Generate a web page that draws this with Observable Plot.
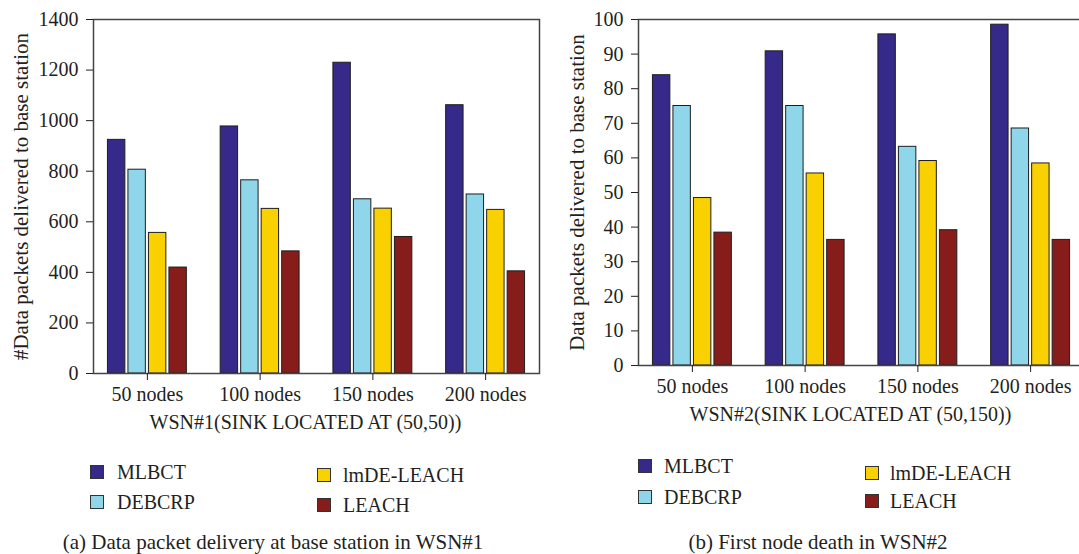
<!DOCTYPE html>
<html>
<head>
<meta charset="utf-8">
<script src="https://cdn.jsdelivr.net/npm/d3@7"></script>
<script src="https://cdn.jsdelivr.net/npm/@observablehq/plot@0.6"></script>
<style>
  html, body { margin: 0; padding: 0; background: #fff; }
  #fig { position: relative; width: 1079px; height: 554px; overflow: hidden; font-family: "Liberation Serif", serif; color: #231f20; }
  #fig svg { position: absolute; top: 0; overflow: visible; }
  .lg { position: absolute; font-size: 20px; line-height: 1; white-space: nowrap; }
  .sw { position: absolute; width: 12px; height: 12px; border: 1.5px solid #333; }
  .cap { position: absolute; font-size: 21px; line-height: 1; white-space: nowrap; transform: translate(-50%, -50%); }
</style>
</head>
<body>
<div id="fig"></div>
<script>
// ---- data ----
const groups = ["50 nodes", "100 nodes", "150 nodes", "200 nodes"];
const seriesNames = ["MLBCT", "DEBCRP", "lmDE-LEACH", "LEACH"];
const seriesColors = ["#35298a", "#8fd6ea", "#f9d100", "#861d1a"];

// (a) WSN#1 data packets delivered
const wsn1MLBCT  = [924, 977, 1229, 1061];
const wsn1DEBCRP = [806, 764, 689, 708];
const wsn1lmDE   = [556, 651, 652, 647];
const wsn1LEACH  = [419, 483, 540, 404];

// (b) WSN#2 first node death
const wsn2MLBCT  = [83.9, 90.8, 95.7, 98.5];
const wsn2DEBCRP = [75.0, 75.0, 63.2, 68.5];
const wsn2lmDE   = [48.4, 55.5, 59.1, 58.4];
const wsn2LEACH  = [38.4, 36.3, 39.1, 36.3];

const ticksA = [0, 200, 400, 600, 800, 1000, 1200, 1400];
const ticksB = [0, 10, 20, 30, 40, 50, 60, 70, 80, 90, 100];

const xTitleA = "WSN#1(SINK LOCATED AT (50,50))";
const xTitleB = "WSN#2(SINK LOCATED AT (50,150))";
const yTitleA = "#Data packets delivered to base station";
const yTitleB = "Data packets delivered to base station";
const captionA = "(a) Data packet delivery at base station in WSN#1";
const captionB = "(b) First node death in WSN#2";

function makeChart(seriesValues, yMax, yTicks, xTitle, yTitle, yTitleDx, marginBottom) {
  const bw = 78.9, barW = 17.4, barStep = 20.5;
  const marks = [];
  seriesValues.forEach((vals, i) => {
    const rows = groups.map((g, j) => ({group: g, value: vals[j]}));
    marks.push(Plot.barY(rows, {
      x: "group", y: "value",
      fill: seriesColors[i], stroke: "#1e1e1e", strokeWidth: 1,
      insetLeft: barStep * i, insetRight: bw - barW - barStep * i
    }));
  });
  marks.push(Plot.frame({stroke: "#444", strokeWidth: 1.5}));
  marks.push(Plot.axisY({ticks: yTicks, tickFormat: d3.format("d"), tickSize: 7, tickPadding: 8, label: null, fontSize: 20}));
  marks.push(Plot.axisX({tickSize: 7, tickPadding: 6, label: null, fontSize: 20}));
  marks.push(Plot.text([xTitle], {text: d => d, frameAnchor: "bottom", textAnchor: "middle", dy: 55, dx: -11, fontSize: 20}));
  marks.push(Plot.text([yTitle], {text: d => d, frameAnchor: "left", textAnchor: "middle", rotate: -90, dx: yTitleDx, fontSize: 21}));
  return Plot.plot({
    width: 546, height: 438,
    marginLeft: 93, marginRight: 7, marginTop: 19, marginBottom: marginBottom,
    style: {fontFamily: "'Liberation Serif', serif", fontSize: "20px", color: "#231f20", background: "transparent"},
    x: {type: "band", domain: groups, paddingInner: 0.3, paddingOuter: 0.128, align: 0.5, round: false},
    y: {domain: [0, yMax], round: false},
    marks
  });
}

const fig = document.getElementById("fig");
const chartA = makeChart([wsn1MLBCT, wsn1DEBCRP, wsn1lmDE, wsn1LEACH], 1400, ticksA, xTitleA, yTitleA, -72, 65);
chartA.style.left = "0px";
fig.appendChild(chartA);
const chartB = makeChart([wsn2MLBCT, wsn2DEBCRP, wsn2lmDE, wsn2LEACH], 100, ticksB, xTitleB, yTitleB, -61, 73);
chartB.style.left = "545px";
fig.appendChild(chartB);

// legends
function legendItem(i, sx, sy, tx, cy) {
  const sw = document.createElement("div");
  sw.className = "sw";
  sw.style.left = sx + "px"; sw.style.top = sy + "px";
  sw.style.background = seriesColors[i];
  fig.appendChild(sw);
  const t = document.createElement("div");
  t.className = "lg";
  t.textContent = seriesNames[i];
  t.style.left = tx + "px"; t.style.top = (cy - 10) + "px";
  fig.appendChild(t);
}
// (a)
legendItem(0, 90, 465, 117, 472);
legendItem(1, 90, 495, 117, 502);
legendItem(2, 317, 468, 343, 475);
legendItem(3, 317, 498, 343, 505);
// (b)
legendItem(0, 638, 459, 664, 466);
legendItem(1, 638, 490, 664, 497);
legendItem(2, 865, 466, 890, 473);
legendItem(3, 865, 494, 890, 501);

function caption(text, cx, cy) {
  const c = document.createElement("div");
  c.className = "cap";
  c.textContent = text;
  c.style.left = cx + "px"; c.style.top = cy + "px";
  fig.appendChild(c);
}
caption(captionA, 273, 542);
caption(captionB, 818, 542);
</script>
</body>
</html>
